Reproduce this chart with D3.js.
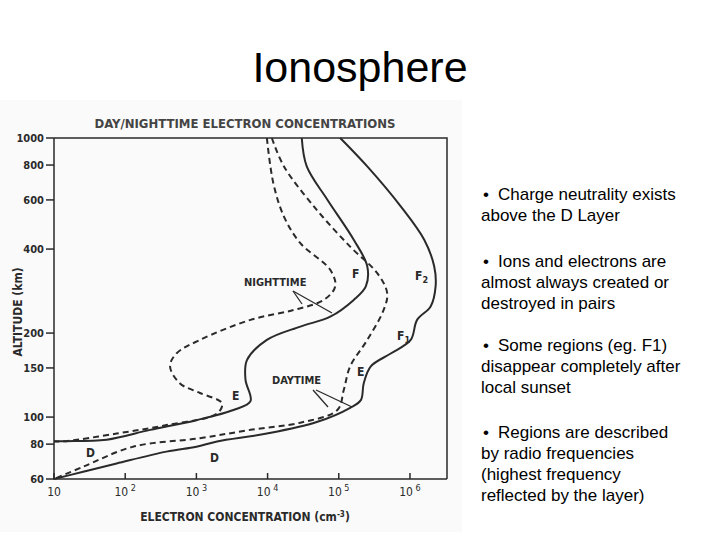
<!DOCTYPE html>
<html><head><meta charset="utf-8">
<script src="https://cdn.jsdelivr.net/npm/d3@7"></script>
<style>body{margin:0;background:#fff}svg{display:block}</style>
</head><body><svg id="c" width="720" height="540"></svg>
<script>
// log10 of electron concentration (cm^-3) vs altitude (km)
const nightSolidLogN = [4.48,4.55,4.84,5.21,5.40,5.38,5.21,4.88,4.46,3.99,3.71,3.69,3.76,3.52,3.00,2.35,1.74,1.17,1.0];
const nightSolidAlt  = [1000,791,601,432,347,294,263,229,211,189,160,136,114,106,97.5,90,83,82,82];
const nightDashLogN = [3.99,4.08,4.23,4.46,4.88,4.95,4.79,4.37,3.76,3.05,2.72,2.63,2.77,3.05,3.36,3.29,2.58,1.88,1.17,1.0];
const nightDashAlt  = [1000,690,523,420,337,294,263,242,223,189,169,152,132,122,112,103,93.6,87.3,82,81.8];
const daySolidLogN = [5.02,5.40,5.87,6.20,6.34,6.36,6.29,6.10,6.01,5.73,5.45,5.35,5.31,5.16,4.69,3.99,3.29,3.00,2.58,1.88,1.41,1.0];
const daySolidAlt  = [1000,791,569,432,347,294,249,223,189,169,152,132,115,108,96,87.3,81.8,78.3,75.2,68.2,63.7,60];
const dayDashLogN = [4.06,4.23,4.69,5.16,5.54,5.68,5.63,5.40,5.16,5.07,4.98,4.46,3.76,3.05,2.11,1.41,1.0];
const dayDashAlt  = [1000,791,553,408,328,278,242,189,152,125,106,95.5,90,84,78.3,66.4,60];
const altTicks = [60,80,100,150,200,400,600,800,1000];
const xTicks = [1,2,3,4,5,6];
const bullets = [
 ["Charge neutrality exists","above the D Layer"],
 ["Ions and electrons are","almost always created or","destroyed in pairs"],
 ["Some regions (eg. F1)","disappear completely after","local sunset"],
 ["Regions are described","by radio frequencies","(highest frequency","reflected by the layer)"]];

const svg = d3.select("#c");
const ink = "#2a2a2a";
svg.append("rect").attr("x",0).attr("y",100).attr("width",462).attr("height",432).attr("fill","#fafafa");
svg.append("text").attr("x",360).attr("y",82).attr("text-anchor","middle")
  .attr("font-family","Liberation Sans, Arial").attr("font-size",43).text("Ionosphere");

const x = d3.scaleLog().domain([10, Math.pow(10,6.52)]).range([54,447]);
const y = d3.scaleLog().domain([60,1000]).range([479,138]);
const g = svg.append("g").attr("font-family","DejaVu Sans Condensed, Liberation Sans Narrow, sans-serif").attr("fill",ink);

g.append("path").attr("d",`M${x.range()[0]},${y(1000)}H${x.range()[1]}V${y(60)}`).attr("fill","none").attr("stroke",ink).attr("stroke-width",1.5);
g.append("path").attr("d",`M${x.range()[0]},${y(1000)}V${y(60)}H${x.range()[1]}`).attr("fill","none").attr("stroke",ink).attr("stroke-width",1.5);

altTicks.forEach(a=>{
  g.append("line").attr("x1",46).attr("x2",54).attr("y1",y(a)).attr("y2",y(a)).attr("stroke",ink).attr("stroke-width",1.5);
  g.append("text").attr("x",44).attr("y",y(a)+4).attr("text-anchor","end").attr("font-size",11).attr("font-weight","bold").text(a);
});
xTicks.forEach(e=>{
  const xx = x(Math.pow(10,e));
  g.append("line").attr("x1",xx).attr("x2",xx).attr("y1",y(60)).attr("y2",y(60)-6).attr("stroke",ink).attr("stroke-width",1.5);
  const t = g.append("text").attr("x",xx).attr("y",y(60)+17).attr("text-anchor","middle").attr("font-size",12);
  if(e===1) t.text("10"); else { t.text("10"); t.append("tspan").attr("dy",-5).attr("font-size",9).text(" "+e); }
});
g.append("text").attr("x",245).attr("y",128).attr("text-anchor","middle").attr("font-size",13).attr("font-weight","bold").attr("fill","#444").text("DAY/NIGHTTIME ELECTRON CONCENTRATIONS");
g.append("text").attr("transform","translate(22,312) rotate(-90)").attr("text-anchor","middle").attr("font-size",12).attr("font-weight","bold").text("ALTITUDE (km)");
const xl = g.append("text").attr("x",245).attr("y",521).attr("text-anchor","middle").attr("font-size",12).attr("font-weight","bold").text("ELECTRON CONCENTRATION  (cm");
xl.append("tspan").attr("dy",-4).attr("font-size",8).text("-3");
xl.append("tspan").attr("dy",4).text(")");

const line = d3.line().x(d=>x(Math.pow(10,d[0]))).y(d=>y(d[1])).curve(d3.curveCatmullRom);
function draw(ln, al, dash){
  g.append("path").datum(d3.zip(ln,al)).attr("d",line).attr("fill","none").attr("stroke",ink)
   .attr("stroke-width",2).attr("stroke-dasharray",dash?"6,4":null);
}
draw(nightSolidLogN,nightSolidAlt,false);
draw(nightDashLogN,nightDashAlt,true);
draw(daySolidLogN,daySolidAlt,false);
draw(dayDashLogN,dayDashAlt,true);

const lab=(t,xx,yy,s)=>g.append("text").attr("x",xx).attr("y",yy).attr("font-size",s||12).attr("font-weight","bold").text(t);
lab("F",352,278); lab("E",232,400); lab("D",86,457); lab("D",210,462); lab("E",357,376);
const f2=lab("F",415,280); f2.append("tspan").attr("dy",3).attr("font-size",9).text("2");
const f1=lab("F",397,340); f1.append("tspan").attr("dy",3).attr("font-size",9).text("1");
lab("NIGHTTIME",244,286,11); lab("DAYTIME",272,384,11);
const arr=(x1,y1,x2,y2)=>g.append("line").attr("x1",x1).attr("y1",y1).attr("x2",x2).attr("y2",y2).attr("stroke",ink).attr("stroke-width",1.3);
arr(293,291,302,304); arr(293,291,332,313); arr(313,390,328,407); arr(316,390,352,407);

const bt = svg.append("g").attr("font-family","Liberation Sans, Arial").attr("font-size",17).attr("fill","#000");
const starts=[195,262,346,433];
bullets.forEach((b,i)=>b.forEach((s,j)=>{
  if(j===0) bt.append("text").attr("x",483).attr("y",starts[i]+5).text("•");
  bt.append("text").attr("x",j===0?498:481).attr("y",starts[i]+j*21+5).text(s);
}));
</script></body></html>
